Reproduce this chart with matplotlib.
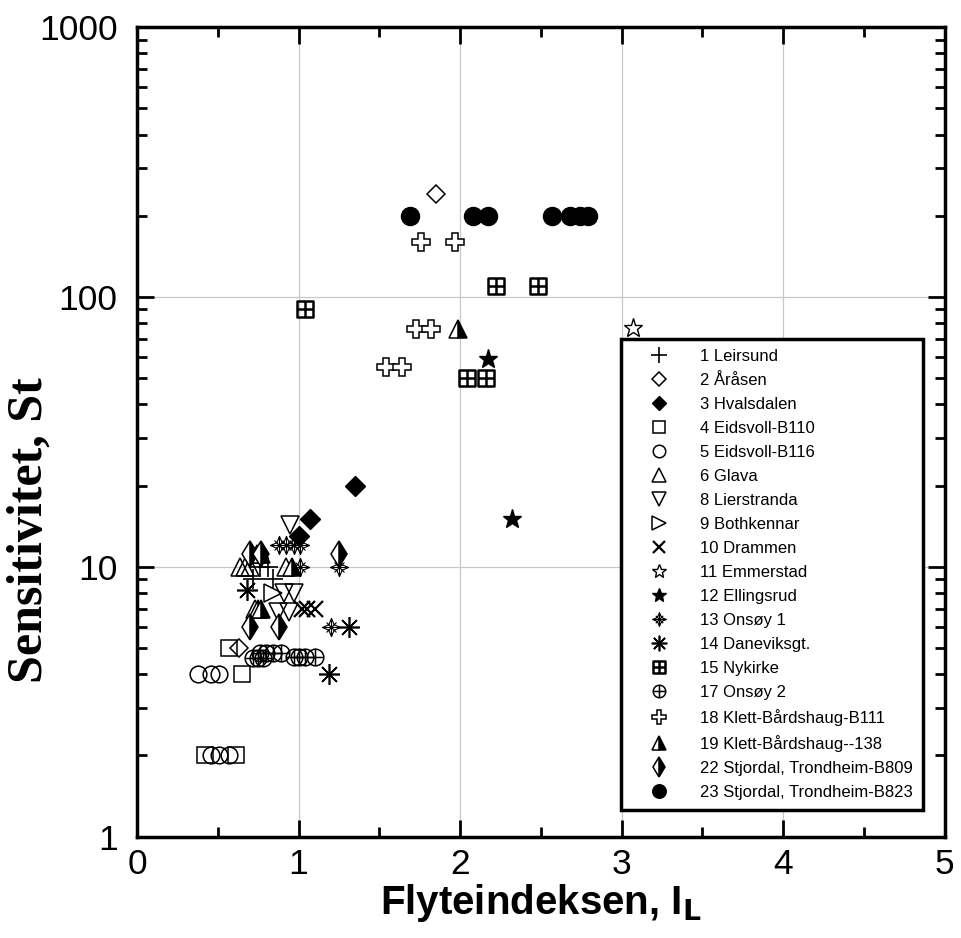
import matplotlib.pyplot as plt
from matplotlib.path import Path
from matplotlib.ticker import FixedLocator, NullFormatter, LogLocator

# data (I_L, St)
leirsund_x = [0.76, 0.81, 0.72, 0.84]
leirsund_y = [10, 10, 9, 9]
araasen_x = [1.85, 0.63]
araasen_y = [240, 5]
hvalsdalen_x = [1.35, 1.07, 1.0]
hvalsdalen_y = [20, 15, 13]
b110_x = [0.57, 0.65, 0.42, 0.61]
b110_y = [5, 4, 2, 2]
b116_x = [0.38, 0.46, 0.51, 0.46, 0.51, 0.57]
b116_y = [4, 4, 4, 2, 2, 2]
glava_x = [0.64, 0.67, 0.70, 0.92, 0.73]
glava_y = [10, 10, 10, 10, 7]
lier_x = [0.95, 0.91, 0.97, 0.87, 0.94]
lier_y = [14.3, 8, 8, 6.8, 6.8]
both_x = [0.84]
both_y = [8]
drammen_x = [1.02, 1.05, 1.10]
drammen_y = [7, 7, 7]
emmer_x = [3.07]
emmer_y = [77]
elling_x = [2.17, 2.32]
elling_y = [59, 15]
onsoy1_x = [0.88, 0.92, 0.97, 1.01, 1.01, 1.25, 1.20]
onsoy1_y = [12, 12, 12, 12, 10, 10, 6]
danev_x = [0.68, 1.31, 1.19]
danev_y = [8.2, 6, 4]
nykirke_x = [1.04, 2.22, 2.48, 2.04, 2.16]
nykirke_y = [90, 110, 110, 50, 50]
onsoy2_x = [0.72, 0.75, 0.78, 0.76, 0.80, 0.84, 0.89, 0.97, 1.00, 1.04, 1.10]
onsoy2_y = [4.6, 4.6, 4.6, 4.8, 4.8, 4.8, 4.8, 4.65, 4.65, 4.65, 4.65]
b111_x = [1.76, 1.97, 1.73, 1.82, 1.54, 1.64]
b111_y = [160, 160, 76, 76, 55, 55]
k138_x = [1.99, 0.74, 0.77, 0.96, 0.75, 0.77]
k138_y = [76, 11.2, 11.2, 10, 7, 7]
b809_x = [0.70, 0.77, 1.25, 0.70, 0.88]
b809_y = [11.2, 11.2, 11.2, 6, 6]
b823_x = [1.69, 2.08, 2.17, 2.57, 2.68, 2.74, 2.79]
b823_y = [200, 200, 200, 200, 200, 200, 200]

plt.rcParams['font.family'] = ['Liberation Sans', 'DejaVu Sans']

M, L, C = Path.MOVETO, Path.LINETO, Path.CLOSEPOLY
cross = Path([[-1, 0], [1, 0], [0, -1], [0, 1]], [M, L, M, L])
square = Path([[-1, -1], [1, -1], [1, 1], [-1, 1], [-1, -1]], [M, L, L, L, C])
box_plus = Path.make_compound_path(square, cross)
circ_plus = Path.make_compound_path(Path.unit_circle(), cross)
star4 = Path([[0, 1], [0.3, 0.3], [1, 0], [0.3, -0.3], [0, -1], [-0.3, -0.3],
              [-1, 0], [-0.3, 0.3], [0, 1]], [M, L, L, L, L, L, L, L, C])
diag = Path([[-0.55, -0.55], [0.55, 0.55], [-0.55, 0.55], [0.55, -0.55]], [M, L, M, L])
burst = Path.make_compound_path(star4, cross, diag)

fig = plt.figure(figsize=(9.61, 9.38), dpi=100)
ax = fig.add_axes([0.1426, 0.108, 0.8404, 0.863])

k = dict(linestyle='none', color='black', mec='black')
ax.plot(leirsund_x, leirsund_y, marker='+', ms=15, mew=1.2, label='1 Leirsund', **k)
ax.plot(araasen_x, araasen_y, marker='D', ms=9, mew=1.1, mfc='white', label='2 Åråsen', **k)
ax.plot(hvalsdalen_x, hvalsdalen_y, marker='D', ms=10, mew=1, mfc='black', label='3 Hvalsdalen', **k)
ax.plot(b110_x, b110_y, marker='s', ms=12, mew=1.1, mfc='none', label='4 Eidsvoll-B110', **k)
ax.plot(b116_x, b116_y, marker='o', ms=12, mew=1.1, mfc='none', label='5 Eidsvoll-B116', **k)
ax.plot(glava_x, glava_y, marker='^', ms=13, mew=1.1, mfc='none', label='6 Glava', **k)
ax.plot(lier_x, lier_y, marker='v', ms=13, mew=1.1, mfc='none', label='8 Lierstranda', **k)
ax.plot(both_x, both_y, marker='>', ms=13, mew=1.1, mfc='none', label='9 Bothkennar', **k)
ax.plot(drammen_x, drammen_y, marker='x', ms=12, mew=1.6, label='10 Drammen', **k)
ax.plot(emmer_x, emmer_y, marker='*', ms=14, mew=1, mfc='white', label='11 Emmerstad', **k)
ax.plot(elling_x, elling_y, marker='*', ms=14, mew=1, mfc='black', label='12 Ellingsrud', **k)
ax.plot(onsoy1_x, onsoy1_y, marker=burst, ms=13, mew=0.8, mfc='none', label='13 Onsøy 1', **k)
ax.plot(danev_x, danev_y, marker=(8, 2, 0), ms=15, mew=1.2, label='14 Daneviksgt.', **k)
ax.plot(nykirke_x, nykirke_y, marker=box_plus, ms=12, mew=1.8, mfc='none', label='15 Nykirke', **k)
ax.plot(onsoy2_x, onsoy2_y, marker=circ_plus, ms=12, mew=1.1, mfc='none', label='17 Onsøy 2', **k)
ax.plot(b111_x, b111_y, marker='P', ms=13, mew=1.1, mfc='white', label='18 Klett-Bårdshaug-B111', **k)
ax.plot(k138_x, k138_y, marker='^', ms=13, mew=1.1, mfc='black', fillstyle='right',
        markerfacecoloralt='white', label='19 Klett-Bårdshaug--138', **k)
ax.plot(b809_x, b809_y, marker='d', ms=13, mew=1.1, mfc='black', fillstyle='right',
        markerfacecoloralt='white', label='22 Stjordal, Trondheim-B809', **k)
ax.plot(b823_x, b823_y, marker='o', ms=13, mew=1, mfc='black', label='23 Stjordal, Trondheim-B823', **k)

ax.set_yscale('log')
ax.set_xlim(0, 5)
ax.set_ylim(1, 1000)
ax.set_xticks([0, 1, 2, 3, 4, 5])
ax.xaxis.set_minor_locator(FixedLocator([0.5, 1.5, 2.5, 3.5, 4.5]))
ax.set_yticks([1, 10, 100, 1000])
ax.set_yticklabels(['1', '10', '100', '1000'])
ax.yaxis.set_minor_locator(LogLocator(base=10, subs=range(2, 10)))
ax.yaxis.set_minor_formatter(NullFormatter())
ax.grid(True, which='major', color='#c8c8c8', linewidth=0.9)
ax.tick_params(which='both', direction='in', top=True, right=True, width=2, labelsize=25.5)
ax.tick_params(which='major', length=12)
ax.tick_params(which='minor', length=7)
ax.tick_params(axis='y', pad=14)
ax.tick_params(axis='x', pad=8)
for s in ax.spines.values():
    s.set_linewidth(2.5)

ax.set_xlabel('Flyteindeksen, I$_\\mathbf{L}$', fontsize=29, fontweight='bold', labelpad=1)
ax.set_ylabel('Sensitivitet, St', fontsize=36, fontweight='bold',
              family=['Liberation Serif', 'DejaVu Serif'])
ax.yaxis.set_label_coords(-0.105, 0.379)

leg = ax.legend(loc='lower right', bbox_to_anchor=(0.973, 0.033), fontsize=12,
                markerscale=0.75, fancybox=False, edgecolor='black', framealpha=1,
                handlelength=3.4, labelspacing=0.54, borderpad=0.6, handletextpad=0.75,
                borderaxespad=0)
leg.get_frame().set_linewidth(2.5)
leg.set_zorder(5)

plt.savefig('out.png', dpi=100)
